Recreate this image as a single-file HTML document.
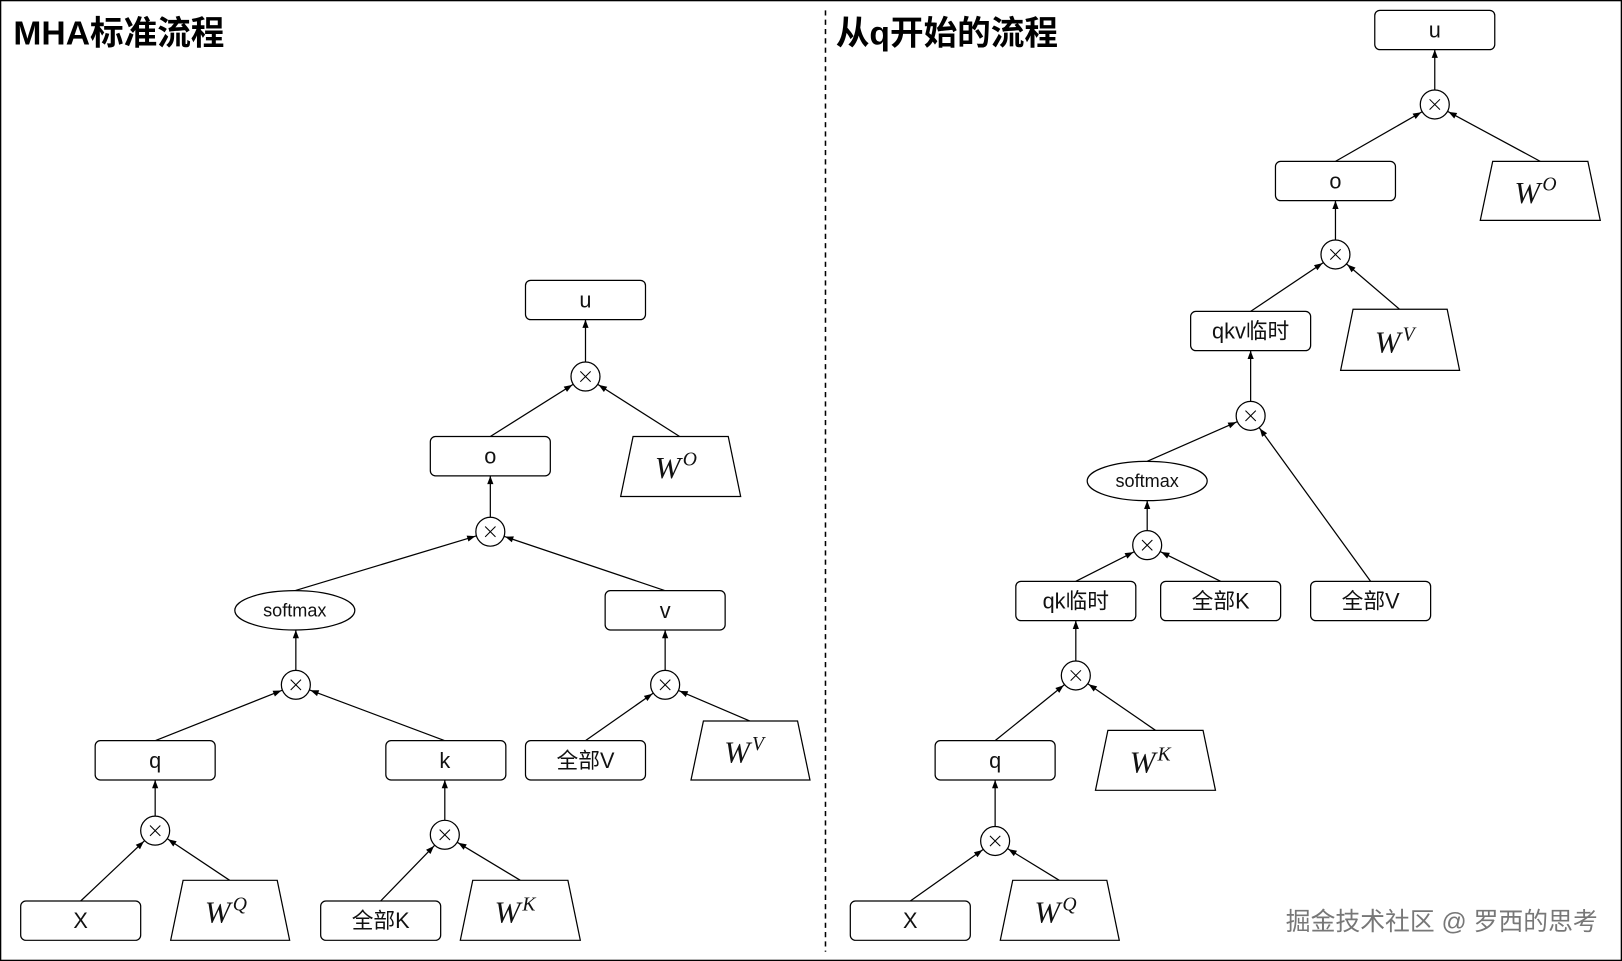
<!DOCTYPE html>
<html><head><meta charset="utf-8"><style>
html,body{margin:0;padding:0;background:#fff;}
svg{display:block;}
text{font-family:"Liberation Sans","Noto Sans CJK SC",sans-serif;}
.bt{font-size:21px;text-anchor:middle;dominant-baseline:central;fill:#111;}
.w{font-family:"Liberation Serif",serif;font-style:italic;font-size:30px;fill:#111;}
.ws{font-family:"Liberation Serif",serif;font-style:italic;font-size:19px;}
.t{font-weight:bold;font-size:32.5px;fill:#000;}
</style></head><body>
<svg width="1622" height="961" viewBox="0 0 1568 929" preserveAspectRatio="none" xmlns="http://www.w3.org/2000/svg">
<defs>
<marker id="ac" markerUnits="userSpaceOnUse" markerWidth="40" markerHeight="10" refX="23" refY="3" orient="auto" overflow="visible"><path d="M0,0 L8,3 L0,6 z" fill="#000"/></marker>
<marker id="ab" markerUnits="userSpaceOnUse" markerWidth="10" markerHeight="10" refX="8" refY="3" orient="auto" overflow="visible"><path d="M0,0 L8,3 L0,6 z" fill="#000"/></marker>
</defs>
<rect x="0.5" y="0.5" width="1567" height="928" fill="#fff" stroke="#000" stroke-width="1.5"/>
<line x1="798" y1="10" x2="798" y2="920" stroke="#000" stroke-width="1.5" stroke-dasharray="5,4"/>
<text class="t" x="13" y="43">MHA标准流程</text>
<text class="t" x="808" y="43">从q开始的流程</text>

<g stroke="#000" stroke-width="1.2" fill="none">
<line x1="78" y1="871" x2="150" y2="803" marker-end="url(#ac)"/>
<line x1="222" y1="851" x2="150" y2="803" marker-end="url(#ac)"/>
<line x1="368" y1="871" x2="430" y2="807" marker-end="url(#ac)"/>
<line x1="503" y1="851" x2="430" y2="807" marker-end="url(#ac)"/>
<line x1="150" y1="716" x2="286" y2="662" marker-end="url(#ac)"/>
<line x1="430" y1="716" x2="286" y2="662" marker-end="url(#ac)"/>
<line x1="566" y1="716" x2="643" y2="662" marker-end="url(#ac)"/>
<line x1="725" y1="697" x2="643" y2="662" marker-end="url(#ac)"/>
<line x1="285" y1="571" x2="474" y2="514" marker-end="url(#ac)"/>
<line x1="643" y1="571" x2="474" y2="514" marker-end="url(#ac)"/>
<line x1="474" y1="422" x2="566" y2="364" marker-end="url(#ac)"/>
<line x1="657" y1="422" x2="566" y2="364" marker-end="url(#ac)"/>
<line x1="150" y1="803" x2="150" y2="754" marker-end="url(#ab)"/>
<line x1="430" y1="807" x2="430" y2="754" marker-end="url(#ab)"/>
<line x1="286" y1="662" x2="286" y2="609" marker-end="url(#ab)"/>
<line x1="643" y1="662" x2="643" y2="609" marker-end="url(#ab)"/>
<line x1="474" y1="514" x2="474" y2="460" marker-end="url(#ab)"/>
<line x1="566" y1="364" x2="566" y2="309" marker-end="url(#ab)"/>
<line x1="880" y1="871" x2="962" y2="813" marker-end="url(#ac)"/>
<line x1="1024" y1="851" x2="962" y2="813" marker-end="url(#ac)"/>
<line x1="962" y1="716" x2="1040" y2="653" marker-end="url(#ac)"/>
<line x1="1117" y1="706" x2="1040" y2="653" marker-end="url(#ac)"/>
<line x1="1040" y1="562" x2="1109" y2="527" marker-end="url(#ac)"/>
<line x1="1180" y1="562" x2="1109" y2="527" marker-end="url(#ac)"/>
<line x1="1109" y1="446" x2="1209" y2="402" marker-end="url(#ac)"/>
<line x1="1325" y1="562" x2="1209" y2="402" marker-end="url(#ac)"/>
<line x1="1209" y1="301" x2="1291" y2="246" marker-end="url(#ac)"/>
<line x1="1353" y1="299" x2="1291" y2="246" marker-end="url(#ac)"/>
<line x1="1291" y1="156" x2="1387" y2="101" marker-end="url(#ac)"/>
<line x1="1489" y1="156" x2="1387" y2="101" marker-end="url(#ac)"/>
<line x1="962" y1="813" x2="962" y2="754" marker-end="url(#ab)"/>
<line x1="1040" y1="653" x2="1040" y2="600" marker-end="url(#ab)"/>
<line x1="1109" y1="527" x2="1109" y2="484" marker-end="url(#ab)"/>
<line x1="1209" y1="402" x2="1209" y2="339" marker-end="url(#ab)"/>
<line x1="1291" y1="246" x2="1291" y2="194" marker-end="url(#ab)"/>
<line x1="1387" y1="101" x2="1387" y2="48" marker-end="url(#ab)"/>
</g>

<g stroke="#000" stroke-width="1.2" fill="#fff">
<circle cx="150" cy="803" r="14"/><circle cx="430" cy="807" r="14"/>
<circle cx="286" cy="662" r="14"/><circle cx="643" cy="662" r="14"/>
<circle cx="474" cy="514" r="14"/><circle cx="566" cy="364" r="14"/>
<circle cx="962" cy="813" r="14"/><circle cx="1040" cy="653" r="14"/>
<circle cx="1109" cy="527" r="14"/><circle cx="1209" cy="402" r="14"/>
<circle cx="1291" cy="246" r="14"/><circle cx="1387" cy="101" r="14"/>
<rect x="508" y="271" width="116" height="38" rx="5"/>
<rect x="416" y="422" width="116" height="38" rx="5"/>
<rect x="585" y="571" width="116" height="38" rx="5"/>
<rect x="92" y="716" width="116" height="38" rx="5"/>
<rect x="373" y="716" width="116" height="38" rx="5"/>
<rect x="508" y="716" width="116" height="38" rx="5"/>
<rect x="20" y="871" width="116" height="38" rx="5"/>
<rect x="310" y="871" width="116" height="38" rx="5"/>
<rect x="1329" y="10" width="116" height="38" rx="5"/>
<rect x="1233" y="156" width="116" height="38" rx="5"/>
<rect x="1151" y="301" width="116" height="38" rx="5"/>
<rect x="982" y="562" width="116" height="38" rx="5"/>
<rect x="1122" y="562" width="116" height="38" rx="5"/>
<rect x="1267" y="562" width="116" height="38" rx="5"/>
<rect x="904" y="716" width="116" height="38" rx="5"/>
<rect x="822" y="871" width="116" height="38" rx="5"/>
<ellipse cx="285" cy="590" rx="58" ry="19"/>
<ellipse cx="1109" cy="465" rx="58" ry="19"/>
<polygon points="612,422 704,422 716,480 600,480"/>
<polygon points="680,697 771,697 783,754 668,754"/>
<polygon points="177,851 268,851 280,909 165,909"/>
<polygon points="457,851 549,851 561,909 445,909"/>
<polygon points="1443,156 1535,156 1547,213 1431,213"/>
<polygon points="1308,299 1399,299 1411,358 1296,358"/>
<polygon points="1071,706 1163,706 1175,764 1059,764"/>
<polygon points="979,851 1070,851 1082,909 967,909"/>
</g>
<g stroke="#000" stroke-width="1">
<path d="M145,798 l10,10 M155,798 l-10,10"/><path d="M425,802 l10,10 M435,802 l-10,10"/>
<path d="M281,657 l10,10 M291,657 l-10,10"/><path d="M638,657 l10,10 M648,657 l-10,10"/>
<path d="M469,509 l10,10 M479,509 l-10,10"/><path d="M561,359 l10,10 M571,359 l-10,10"/>
<path d="M957,808 l10,10 M967,808 l-10,10"/><path d="M1035,648 l10,10 M1045,648 l-10,10"/>
<path d="M1104,522 l10,10 M1114,522 l-10,10"/><path d="M1204,397 l10,10 M1214,397 l-10,10"/>
<path d="M1286,241 l10,10 M1296,241 l-10,10"/><path d="M1382,96 l10,10 M1392,96 l-10,10"/>
</g>

<text class="bt" x="566" y="290">u</text>
<text class="bt" x="474" y="441">o</text>
<text class="bt" x="643" y="590">v</text>
<text class="bt" x="150" y="735">q</text>
<text class="bt" x="430" y="735">k</text>
<text class="bt" x="566" y="735">全部V</text>
<text class="bt" x="78" y="890">X</text>
<text class="bt" x="368" y="890">全部K</text>
<text class="bt" x="285" y="590" style="font-size:17.5px">softmax</text>
<text class="bt" x="1387" y="29">u</text>
<text class="bt" x="1291" y="175">o</text>
<text class="bt" x="1209" y="320">qkv临时</text>
<text class="bt" x="1040" y="581">qk临时</text>
<text class="bt" x="1180" y="581">全部K</text>
<text class="bt" x="1325" y="581">全部V</text>
<text class="bt" x="962" y="735">q</text>
<text class="bt" x="880" y="890">X</text>
<text class="bt" x="1109" y="465" style="font-size:17.5px">softmax</text>

<text class="w" x="633" y="462">W<tspan class="ws" dx="2" dy="-12">O</tspan></text>
<text class="w" x="700" y="737">W<tspan class="ws" dx="2" dy="-12">V</tspan></text>
<text class="w" x="198" y="892">W<tspan class="ws" dx="2" dy="-12">Q</tspan></text>
<text class="w" x="478" y="892">W<tspan class="ws" dx="2" dy="-12">K</tspan></text>
<text class="w" x="1464" y="196">W<tspan class="ws" dx="2" dy="-12">O</tspan></text>
<text class="w" x="1329" y="341">W<tspan class="ws" dx="2" dy="-12">V</tspan></text>
<text class="w" x="1092" y="747">W<tspan class="ws" dx="2" dy="-12">K</tspan></text>
<text class="w" x="1000" y="892">W<tspan class="ws" dx="2" dy="-12">Q</tspan></text>

<text x="1243" y="899" style="font-size:24px;fill:#777;stroke:#fff;stroke-width:3;paint-order:stroke">掘金技术社区 @ 罗西的思考</text>
</svg>
</body></html>
